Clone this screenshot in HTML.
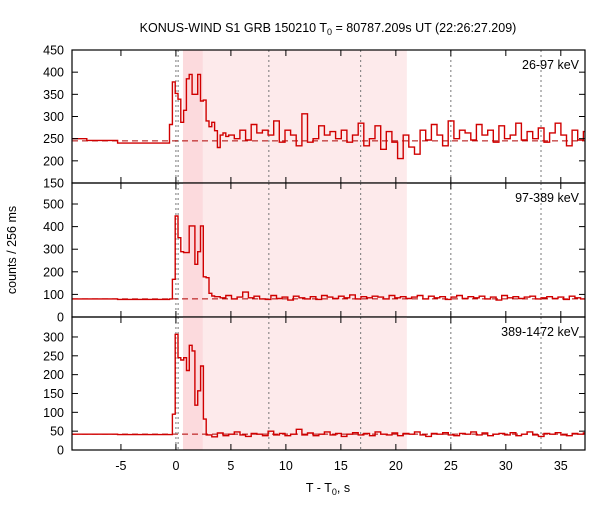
<!DOCTYPE html>
<html><head><meta charset="utf-8"><style>
body{margin:0;background:#fff}
svg text{font-family:"Liberation Sans",sans-serif;font-size:12.5px;fill:#000}
</style></head><body>
<svg id="chart" width="600" height="500" xmlns="http://www.w3.org/2000/svg"></svg>
<script>
const bgTop=[[-9.5,250],[-8.1,246],[-5.3,240]];
const bgMid=[[-9.5,80],[-5.3,78]];
const bgBot=[[-9.5,42],[-5.3,41]];
const fineStartTop=-0.58, fineStartMid=-0.58, fineStartBot=-0.32;
const fineTop=[282,378,352,339,287,314,385,395,350,350,395,335,337,290,277,287,268,230,258,263,255];
const fineMid=[80,167,447,351,289,285,285,403,403,233,289,403,178,174,105,93];
const fineBot=[95,307,245,239,245,211,278,263,119,157,223,82];
const tailTop=[258,250,269,247,282,263,269,258,290,242,269,258,234,306,242,250,279,258,266,250,269,242,258,285,234,250,279,226,266,242,205,258,231,215,269,247,282,258,234,290,250,269,263,247,282,258,269,242,279,250,258,285,247,266,250,274,242,263,285,258,234,269,247,266];
const tailMid=[90,85,95,80,88,110,85,92,80,78,95,82,88,75,92,85,80,90,78,95,88,82,92,85,98,80,90,85,92,88,80,95,85,90,82,88,95,80,92,85,90,78,88,95,82,90,85,92,80,88,75,95,85,90,82,88,92,80,85,90,82,88,78,92,85,80,88];
const tailBot=[40,35,45,38,42,48,40,36,44,42,38,50,40,44,38,42,55,40,45,38,42,48,40,44,36,42,46,40,44,38,48,42,40,45,38,44,42,48,40,36,44,42,46,40,38,44,42,48,40,45,38,42,44,40,46,38,42,48,40,36,44,42,46,40,38,44,42,45,40,38];
const bgLevels=[245,80,42];
const panelLabels=["26-97 keV","97-389 keV","389-1472 keV"];
const xTicks=[-5,0,5,10,15,20,25,30,35];
const yTicksTop=[150,200,250,300,350,400,450];
const yTicksMid=[0,100,200,300,400,500];
const yTicksBot=[0,50,100,150,200,250,300];
const vLines=[0,0.2,8.45,16.8,25.0,33.2];
const shadeDark=[0.64,2.45], shadeLight=[2.45,21.0];

const NS="http://www.w3.org/2000/svg", svg=document.getElementById('chart');
const X0=72,X1=585,T0=-9.45,T1=37.2;
const xs=t=>X0+(t-T0)/(T1-T0)*(X1-X0);
const panels=[
 {top:50,bot:183,min:150,max:450,ticks:yTicksTop,bg:bgTop,fs:fineStartTop,fine:fineTop,tail:tailTop,name:'panel-26-97kev'},
 {top:183,bot:317,min:0,max:593,ticks:yTicksMid,bg:bgMid,fs:fineStartMid,fine:fineMid,tail:tailMid,name:'panel-97-389kev'},
 {top:317,bot:450,min:0,max:353,ticks:yTicksBot,bg:bgBot,fs:fineStartBot,fine:fineBot,tail:tailBot,name:'panel-389-1472kev'}];
function el(tag,a,p){const e=document.createElementNS(NS,tag);for(const k in a)e.setAttribute(k,a[k]);(p||svg).appendChild(e);return e;}

panels.forEach((P,i)=>{
 const ys=v=>P.bot-(v-P.min)/(P.max-P.min)*(P.bot-P.top);
 const g=el('g',{});
 
 
 let r=el('rect',{x:xs(shadeLight[0]),y:P.top,width:xs(shadeLight[1])-xs(shadeLight[0]),height:P.bot-P.top,fill:'#fdeaeb'},g);
 
 
 r=el('rect',{x:xs(shadeDark[0]),y:P.top,width:xs(shadeDark[1])-xs(shadeDark[0]),height:P.bot-P.top,fill:'#fcdadd'},g);
 
 
 vLines.forEach(t=>{const l=el('line',{x1:xs(t),x2:xs(t),y1:P.top,y2:P.bot,stroke:'#777','stroke-dasharray':'2,3','stroke-width':1},g);
  
  });
 const bl=el('line',{x1:X0,x2:X1,y1:ys(bgLevels[i]),y2:ys(bgLevels[i]),stroke:'#b00000','stroke-dasharray':'6,4','stroke-width':1},g);
 
 
 const bins=[];
 P.bg.forEach((b,k)=>{const end=k<P.bg.length-1?P.bg[k+1][0]:P.fs;bins.push([b[0],end,b[1]]);});
 let t=P.fs;
 P.fine.forEach(v=>{bins.push([t,t+0.256,v]);t+=0.256;});
 P.tail.forEach(v=>{if(t<T1){bins.push([t,Math.min(t+0.512,T1),v]);}t+=0.512;});
 let d='';
 bins.forEach((b,k)=>{const y=Math.max(P.top,Math.min(P.bot,ys(b[2])));d+=(k?'L':'M')+xs(Math.max(b[0],T0)).toFixed(1)+','+y.toFixed(1)+'L'+xs(b[1]).toFixed(1)+','+y.toFixed(1);});
 const pth=el('path',{d:d,fill:'none',stroke:'#d00000','stroke-width':1.4},g);
 
 
 const fr=el('rect',{x:X0,y:P.top,width:X1-X0,height:P.bot-P.top,fill:'none',stroke:'#000','stroke-width':1.2},g);
 
 
 xTicks.forEach(v=>{el('line',{x1:xs(v),x2:xs(v),y1:P.top,y2:P.top+6,stroke:'#000'},g);el('line',{x1:xs(v),x2:xs(v),y1:P.bot,y2:P.bot-6,stroke:'#000'},g);});
 P.ticks.forEach(v=>{const y=ys(v);
  el('line',{x1:X0,x2:X0+6,y1:y,y2:y,stroke:'#000'},g);el('line',{x1:X1,x2:X1-6,y1:y,y2:y,stroke:'#000'},g);
  const tx=el('text',{x:X0-8,y:y+4.5,'text-anchor':'end'},g);tx.textContent=v;
  
  });
 const lb=el('text',{x:579,y:P.top+19,'text-anchor':'end'},g);lb.textContent=panelLabels[i];
 
 
});
xTicks.forEach(v=>{const tx=el('text',{x:xs(v),y:470,'text-anchor':'middle'});tx.textContent=v;
 
 });
const title=el('text',{x:328,y:32,'text-anchor':'middle'});
title.innerHTML='KONUS-WIND S1 GRB 150210 T<tspan dy="3" font-size="9">0</tspan><tspan dy="-3"> = 80787.209s UT (22:26:27.209)</tspan>';


const xl=el('text',{x:328,y:492,'text-anchor':'middle'});
xl.innerHTML='T - T<tspan dy="3" font-size="9">0</tspan><tspan dy="-3">, s</tspan>';


const yl=el('text',{x:16,y:250,'text-anchor':'middle',transform:'rotate(-90 16 250)'});
yl.textContent='counts / 256 ms';


</script>
</body></html>
